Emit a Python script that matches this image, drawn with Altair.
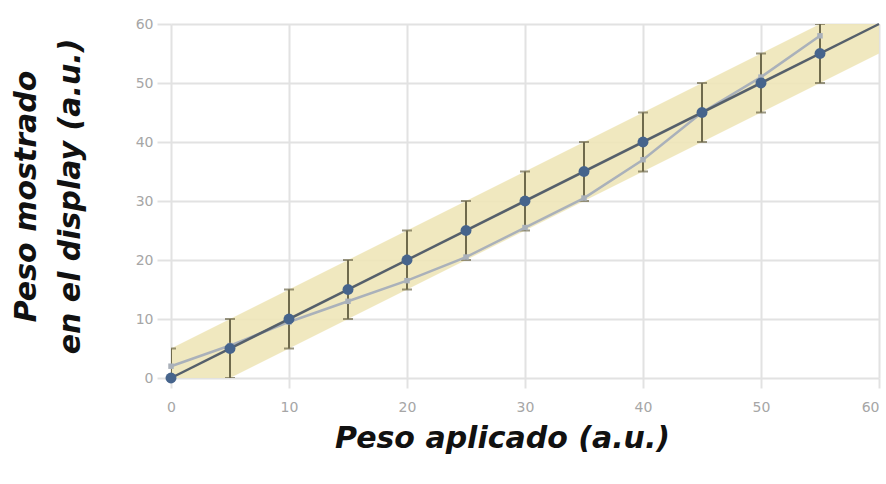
import altair as alt
import pandas as pd

# --- data ---
applied = [0, 5, 10, 15, 20, 25, 30, 35, 40, 45, 50, 55]
ideal = [0, 5, 10, 15, 20, 25, 30, 35, 40, 45, 50, 55]
measured = [2, 5.5, 9.5, 13, 16.5, 20.5, 25.5, 30.5, 37, 45, 51, 58]
err_lo = [-5, 0, 5, 10, 15, 20, 25, 30, 35, 40, 45, 50]
err_hi = [5, 10, 15, 20, 25, 30, 35, 40, 45, 50, 55, 60]
line_x = [0, 60]
line_y = [0, 60]
band_lo = [-5, 55]
band_hi = [5, 65]
ticks = [0, 10, 20, 30, 40, 50, 60]

pts = pd.DataFrame({"x": applied, "ideal": ideal, "measured": measured,
                    "lo": err_lo, "hi": err_hi})
ln = pd.DataFrame({"x": line_x, "y": line_y, "lo": band_lo, "hi": band_hi})

xscale = alt.Scale(domain=[0, 60], nice=False, zero=False)
yscale = alt.Scale(domain=[0, 60], nice=False, zero=False)

xaxis = alt.Axis(values=ticks, title="Peso aplicado (a.u.)",
                 titleFont="DejaVu Sans", titleFontStyle="italic",
                 titleFontWeight="bold", titleFontSize=30, titleColor="#111111",
                 titleX=331, titleY=69, titleAlign="center",
                 titleBaseline="alphabetic", labelFlush=False,
                 labelAlign=alt.ExprRef(expr="datum.value >= 60 ? 'right' : 'center'"),
                 tickSize=10, labelPadding=12)
yaxis = alt.Axis(values=ticks, title=["Peso mostrado", "en el display (a.u.)"],
                 titleFont="DejaVu Sans", titleFontStyle="italic",
                 titleFontWeight="bold", titleFontSize=30, titleColor="#111111",
                 titleLineHeight=44, titleAngle=270, titleX=-130, titleY=172,
                 titleAlign="center", titleBaseline="bottom", labelFlush=False,
                 tickSize=14, labelPadding=4)

band = alt.Chart(ln).mark_area(color="#eee5b8", opacity=0.9, clip=True).encode(
    x=alt.X("x:Q", scale=xscale, axis=xaxis),
    y=alt.Y("lo:Q", scale=yscale, axis=yaxis),
    y2="hi:Q",
)

errs = alt.Chart(pts).mark_rule(color="#6f6a4c", strokeWidth=2, clip=True).encode(
    x=alt.X("x:Q", scale=xscale),
    y=alt.Y("lo:Q", scale=yscale),
    y2="hi:Q",
)
caps_lo = alt.Chart(pts).mark_tick(color="#6f6a4c", orient="horizontal",
                                   size=10, thickness=2, clip=True).encode(
    x=alt.X("x:Q", scale=xscale),
    y=alt.Y("lo:Q", scale=yscale),
)
caps_hi = alt.Chart(pts).mark_tick(color="#6f6a4c", orient="horizontal",
                                   size=10, thickness=2, clip=True).encode(
    x=alt.X("x:Q", scale=xscale),
    y=alt.Y("hi:Q", scale=yscale),
)

meas_line = alt.Chart(pts).mark_line(color="#aab1ba", strokeWidth=2.5).encode(
    x=alt.X("x:Q", scale=xscale),
    y=alt.Y("measured:Q", scale=yscale),
)
meas_pts = alt.Chart(pts).mark_point(color="#aab1ba", filled=True, size=30,
                                     shape="square", opacity=1).encode(
    x=alt.X("x:Q", scale=xscale),
    y=alt.Y("measured:Q", scale=yscale),
)

ideal_line = alt.Chart(ln).mark_line(color="#56606b", strokeWidth=2.5).encode(
    x=alt.X("x:Q", scale=xscale),
    y=alt.Y("y:Q", scale=yscale),
)
ideal_pts = alt.Chart(pts).mark_circle(color="#46648c", size=120, opacity=1).encode(
    x=alt.X("x:Q", scale=xscale),
    y=alt.Y("ideal:Q", scale=yscale),
)

chart = alt.layer(band, errs, caps_lo, caps_hi, meas_line, meas_pts,
                  ideal_line, ideal_pts).properties(
    width=708, height=354,
    autosize=alt.AutoSizeParams(type="none"),
    padding={"left": 171, "top": 24, "right": 7, "bottom": 106},
    background="white",
).configure_view(strokeWidth=0).configure_axis(
    domain=False,
    gridColor="#e2e2e2", gridWidth=2,
    tickColor="#e2e2e2", tickWidth=2,
    labelColor="#a6a6a6", labelFontSize=14, labelFont="DejaVu Sans",
)

chart.save("out.html", embed_options={"renderer": "svg", "actions": False})
